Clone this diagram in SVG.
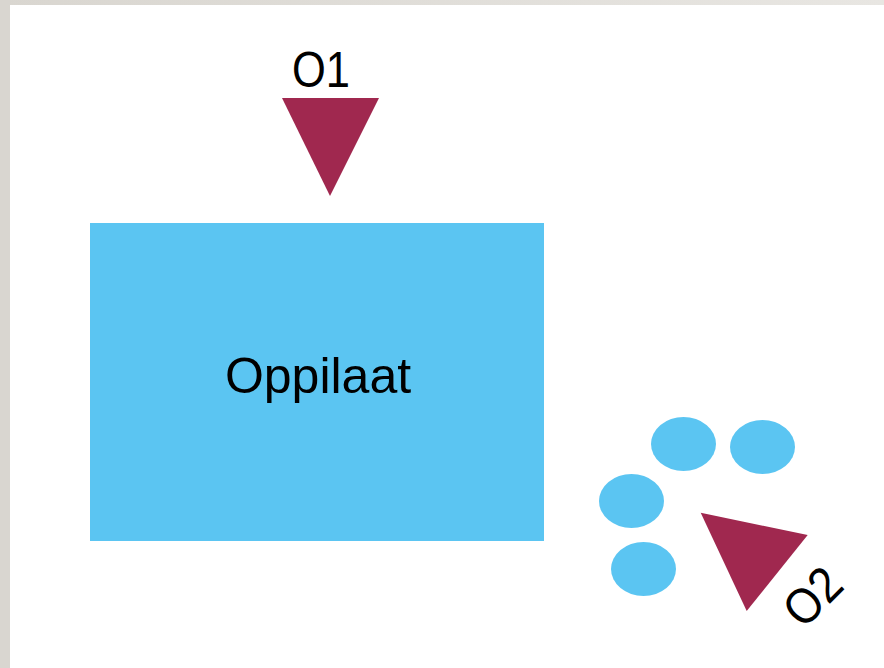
<svg xmlns="http://www.w3.org/2000/svg" width="884" height="668" viewBox="0 0 884 668">
<style>
.lbl{font-family:"Liberation Sans",Arial,sans-serif;fill:#000;}
.tri{fill:#a0284f;}
.blue{fill:#5bc5f2;}
</style>
<defs>
<linearGradient id="topg" x1="0" y1="0" x2="1" y2="0">
<stop offset="0" stop-color="#d9d6d0"/>
<stop offset="1" stop-color="#e8e6e2"/>
</linearGradient>
</defs>
<rect x="0" y="0" width="884" height="668" fill="#ffffff"/>
<rect x="0" y="0" width="884" height="5" fill="url(#topg)"/>
<rect x="0" y="0" width="10" height="668" fill="#d9d6d0"/>
<g id="o1">
<polygon class="tri" points="282,98 379,98 330,196"/>
<text class="lbl" x="321" y="87" font-size="50" text-anchor="middle" textLength="58" lengthAdjust="spacingAndGlyphs">O1</text>
</g>
<g id="oppilaat">
<rect class="blue" x="90" y="223" width="454" height="318"/>
<text class="lbl" x="318" y="393" font-size="50" text-anchor="middle">Oppilaat</text>
</g>
<g id="pupils">
<ellipse class="blue" cx="683.5" cy="444" rx="32.5" ry="27"/>
<ellipse class="blue" cx="762.5" cy="447" rx="32.5" ry="27"/>
<ellipse class="blue" cx="631.5" cy="501" rx="32.5" ry="27"/>
<ellipse class="blue" cx="643.5" cy="569" rx="32.5" ry="27"/>
</g>
<g id="o2">
<polygon class="tri" points="700.7,512.7 807.7,535 746.7,611"/>
<text class="lbl" transform="translate(812,596) rotate(-45)" x="0" y="18" font-size="50" text-anchor="middle" textLength="60" lengthAdjust="spacingAndGlyphs">O2</text>
</g>
<g id="connectors"></g>
</svg>
